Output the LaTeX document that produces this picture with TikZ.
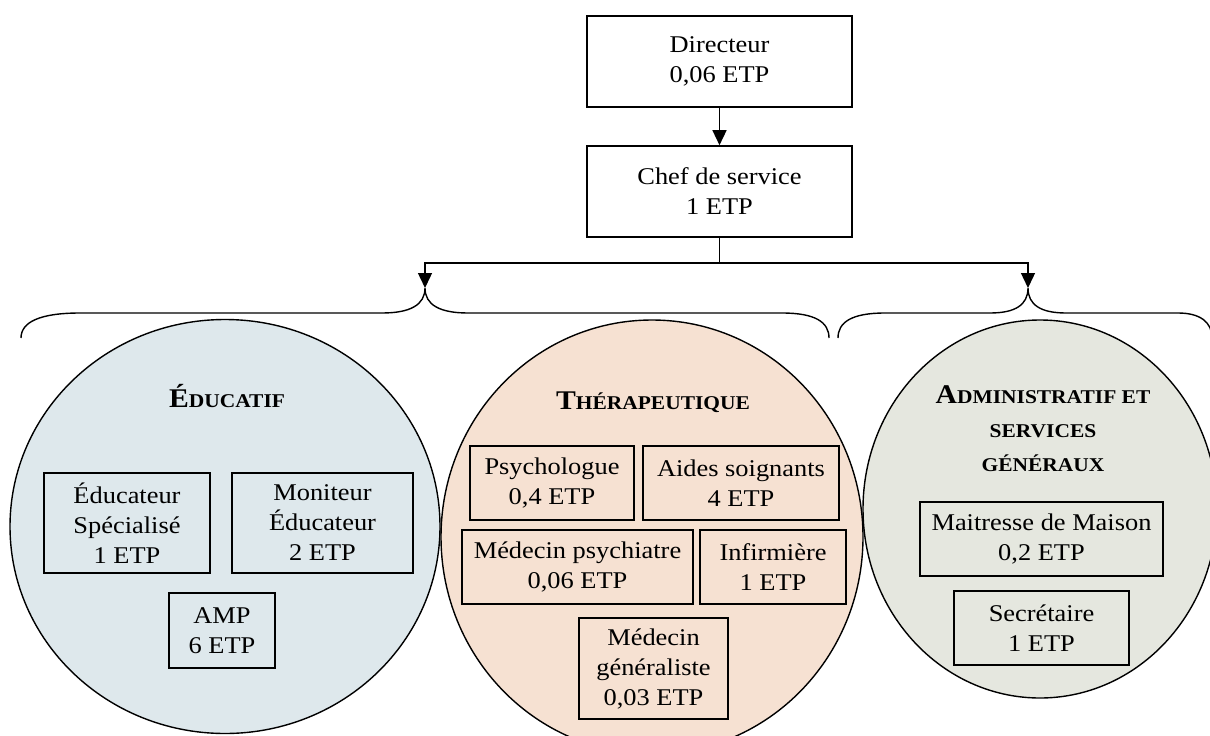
\documentclass[tikz,border=0pt]{standalone}
\usepackage{fontspec}
\setmainfont{Liberation Serif}[FakeStretch=1.1]
\usetikzlibrary{arrows.meta}
\definecolor{edufill}{RGB}{222,232,236}
\definecolor{therfill}{RGB}{246,225,210}
\definecolor{admfill}{RGB}{229,231,223}
\newcommand\bigcapl[1]{{\fontsize{27}{34}\selectfont\bfseries #1}}
\newcommand\smallcapl[1]{{\fontsize{19.5}{34}\selectfont\bfseries #1}}
\begin{document}
\begin{tikzpicture}[x=1pt,y=-1pt,
  box/.style={draw,line width=1.6pt,align=center,inner sep=0pt,
    font=\fontsize{24}{30}\selectfont},
  circ/.style={draw,line width=1.4pt},
  conn/.style={line width=1.4pt,-{Triangle[length=15pt,width=14pt]}},
  brace/.style={line width=1.4pt},
  title/.style={anchor=base,align=center,inner sep=0pt}]
\useasboundingbox (0,0) rectangle (1210,736);
\clip (0,0) rectangle (1210,736);
% group circles
\draw[circ,fill=edufill] (225,526.5) ellipse [x radius=215pt,y radius=207pt];
\draw[circ,fill=therfill] (652,537) ellipse [x radius=211pt,y radius=217pt];
\draw[circ,fill=admfill] (1040,509) ellipse [x radius=177pt,y radius=189pt];
% top boxes
\node[box,minimum width=265pt,minimum height=91pt] (dir) at (719.5,61.5) {Directeur\\0,06 ETP};
\node[box,minimum width=265pt,minimum height=91pt] (chef) at (719.5,191.5) {Chef de service\\1 ETP};
\draw[conn] (dir) -- (chef);
\coordinate (split) at (719.5,263);
\coordinate (tipL) at (425,288);
\coordinate (tipR) at (1028,288);
\draw[conn] (chef.south) -- (split) -| (tipL);
\draw[conn] (split) -| (tipR);
% braces
\draw[brace] (21,338) .. controls (21,322) and (40,313) .. (80,313) -- (382,313)
  .. controls (410,313) and (425,305) .. (tipL)
  .. controls (425,305) and (440,313) .. (468,313) -- (782,313)
  .. controls (815,313) and (829,322) .. (829,338);
\draw[brace] (838,338) .. controls (838,322) and (852,313) .. (885,313) -- (990,313)
  .. controls (1015,313) and (1028,305) .. (tipR)
  .. controls (1028,305) and (1041,313) .. (1066,313) -- (1178,313)
  .. controls (1200,313) and (1212,322) .. (1212,338);
% titles
\node[title] (teduc) at (227,407) {\bigcapl{É}\smallcapl{DUCATIF}};
\node[title] (ttherap) at (653,409) {\bigcapl{T}\smallcapl{HÉRAPEUTIQUE}};
\node[title] (tadm1) at (1043,403) {\bigcapl{A}\smallcapl{DMINISTRATIF ET}};
\node[title] (tadm2) at (1043,437) {\smallcapl{SERVICES}};
\node[title] (tadm3) at (1043,471) {\smallcapl{GÉNÉRAUX}};
% educatif boxes
\node[box,minimum width=166pt,minimum height=100pt] (es) at (127,523) {Éducateur\\Spécialisé\\1 ETP};
\node[box,minimum width=181pt,minimum height=100pt] (me) at (322.5,523) {Moniteur\\Éducateur\\2 ETP};
\node[box,minimum width=106pt,minimum height=75pt] (amp) at (222,630.5) {AMP\\6 ETP};
% therapeutique boxes
\node[box,minimum width=164pt,minimum height=74pt] (psy) at (552,483) {Psychologue\\0,4 ETP};
\node[box,minimum width=196pt,minimum height=74pt] (aides) at (741,483) {Aides soignants\\4 ETP};
\node[box,minimum width=231pt,minimum height=74pt] (mpsy) at (577.5,567) {Médecin psychiatre\\0,06 ETP};
\node[box,minimum width=146pt,minimum height=74pt] (inf) at (773,567) {Infirmière\\1 ETP};
\node[box,minimum width=149pt,minimum height=101pt] (mgen) at (653.5,668.5) {Médecin\\généraliste\\0,03 ETP};
% admin boxes
\node[box,minimum width=243pt,minimum height=74pt] (mm) at (1041.5,539) {Maitresse de Maison\\0,2 ETP};
\node[box,minimum width=175pt,minimum height=74pt] (sec) at (1041.5,628) {Secrétaire\\1 ETP};
\end{tikzpicture}
\end{document}
